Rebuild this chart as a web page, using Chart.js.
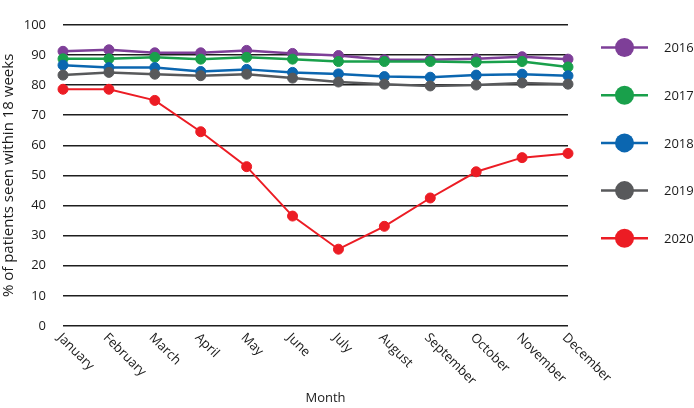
<!DOCTYPE html>
<html><head><meta charset="utf-8">
<script src="https://cdn.jsdelivr.net/npm/chart.js@4.4.0/dist/chart.umd.min.js"></script>
<style>html,body{margin:0;padding:0;background:#fff}#wrap{width:694px;height:408px}</style>
</head><body><div id="wrap"><canvas id="c" width="694" height="408"></canvas></div>
<script>
const months = ['January','February','March','April','May','June','July','August','September','October','November','December'];
const years = ['2016','2017','2018','2019','2020'];
const v2016 = [91.2, 91.7, 90.7, 90.7, 91.5, 90.5, 89.8, 88.4, 88.4, 88.7, 89.4, 88.6];
const v2017 = [88.7, 88.7, 89.2, 88.6, 89.2, 88.6, 87.8, 87.8, 87.8, 87.6, 87.8, 86.0];
const v2018 = [86.6, 85.8, 85.8, 84.5, 85.2, 84.2, 83.7, 82.8, 82.6, 83.3, 83.6, 83.1];
const v2019 = [83.3, 84.2, 83.6, 83.1, 83.6, 82.3, 81.0, 80.3, 79.7, 80.0, 80.7, 80.3];
const v2020 = [78.6, 78.6, 74.9, 64.5, 52.9, 36.5, 25.5, 33.1, 42.5, 51.2, 55.9, 57.3];
const yMin = 0, yMax = 100, yStep = 10;
const yTitle = '% of patients seen within 18 weeks';
const xTitle = 'Month';

const series = [v2016, v2017, v2018, v2019, v2020];
const colors = ['#7e3f98', '#19a04b', '#0b66b0', '#58595b', '#ec1c24'];
const widths = [2.5, 2.5, 2.5, 2.5, 2];
const FONT = '"Open Sans", "Noto Sans", sans-serif';
const TXT = '#1a1a1a';

const overlay = {
  id: 'overlay',
  afterDraw(chart) {
    const ctx = chart.ctx, xs = chart.scales.x, ca = chart.chartArea;
    ctx.save();
    ctx.font = '13px ' + FONT;
    ctx.fillStyle = TXT;
    months.forEach((m, i) => {
      const x = xs.getPixelForValue(i);
      ctx.save();
      ctx.translate(x + 1, ca.bottom + 5);
      ctx.rotate(Math.PI / 4);
      ctx.textAlign = 'left';
      ctx.textBaseline = 'top';
      ctx.fillText(m, 0, 0);
      ctx.restore();
    });
    ctx.textAlign = 'center';
    ctx.textBaseline = 'middle';
    ctx.fillText(xTitle, (ca.left + ca.right) / 2 + 10, 398);
    // legend
    years.forEach((y, i) => {
      const cy = 47.5 + i * 47.7;
      ctx.strokeStyle = colors[i];
      ctx.lineWidth = 2.5;
      ctx.beginPath(); ctx.moveTo(601, cy); ctx.lineTo(648, cy); ctx.stroke();
      ctx.fillStyle = colors[i];
      ctx.beginPath(); ctx.arc(624.5, cy, 9.5, 0, Math.PI * 2); ctx.fill();
      ctx.fillStyle = TXT;
      ctx.textAlign = 'left';
      ctx.fillText(y, 664, cy + 1);
    });
    ctx.restore();
  }
};

new Chart(document.getElementById('c'), {
  type: 'line',
  data: {
    labels: months,
    datasets: series.map((d, i) => ({
      label: years[i],
      data: d,
      borderColor: colors[i],
      backgroundColor: colors[i],
      borderWidth: widths[i],
      pointRadius: 5,
      pointBorderWidth: 1,
      pointBackgroundColor: colors[i],
      pointBorderColor: colors[i],
      tension: 0,
      clip: false,
      order: 5 - i
    }))
  },
  options: {
    responsive: false,
    animation: false,
    layout: { padding: { left: 0, right: 126, top: 8, bottom: 0 } },
    plugins: { legend: { display: false }, tooltip: { enabled: false } },
    scales: {
      x: {
        offset: false,
        grid: { display: false },
        border: { display: false },
        ticks: { display: false },
        afterFit(s) { s.height = 82; }
      },
      y: {
        min: yMin, max: yMax,
        ticks: { stepSize: yStep, padding: 17, color: TXT, font: { family: FONT, size: 13 } },
        grid: { color: '#1e1e1e', lineWidth: 1.5, drawTicks: false },
        border: { display: false },
        title: { display: true, text: yTitle, color: TXT, font: { family: FONT, size: 15 }, padding: { top: 0, bottom: 0 } },
        afterFit(s) { s.width = 63; }
      }
    }
  },
  plugins: [overlay]
});
</script>
</body></html>
